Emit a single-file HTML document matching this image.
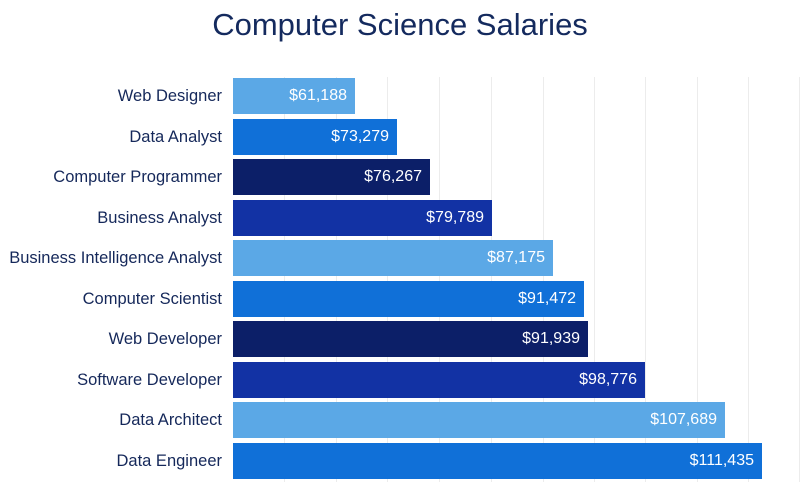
<!DOCTYPE html>
<html><head><style>
body{margin:0;width:800px;height:491px;background:#fff;font-family:"Liberation Sans",sans-serif;overflow:hidden;position:relative}
.t{position:absolute;top:7px;left:0;width:800px;text-align:center;font-size:31px;color:#142a5e}
.g{position:absolute;top:77px;height:405px;width:1px;background:#ececec}
.b{position:absolute;left:233px;height:36px;color:#fff;font-size:16px;line-height:36px;text-align:right;box-sizing:border-box;padding-right:8px}
.l{position:absolute;right:578px;height:36px;line-height:36px;font-size:16.5px;color:#15285a;white-space:nowrap}
</style></head><body>
<div class="t">Computer Science Salaries</div>
<div class="g" style="left:284px"></div><div class="g" style="left:336px"></div><div class="g" style="left:387px"></div><div class="g" style="left:439px"></div><div class="g" style="left:491px"></div><div class="g" style="left:543px"></div><div class="g" style="left:594px"></div><div class="g" style="left:645px"></div><div class="g" style="left:697px"></div><div class="g" style="left:748px"></div><div class="g" style="left:799px"></div>
<div class="l" style="top:78px">Web Designer</div><div class="b" style="top:78px;width:122px;background:#5ba8e6">$61,188</div>
<div class="l" style="top:119px">Data Analyst</div><div class="b" style="top:119px;width:164px;background:#1070d8">$73,279</div>
<div class="l" style="top:159px">Computer Programmer</div><div class="b" style="top:159px;width:197px;background:#0c1f68">$76,267</div>
<div class="l" style="top:200px">Business Analyst</div><div class="b" style="top:200px;width:259px;background:#1232a4">$79,789</div>
<div class="l" style="top:240px">Business Intelligence Analyst</div><div class="b" style="top:240px;width:320px;background:#5ba8e6">$87,175</div>
<div class="l" style="top:281px">Computer Scientist</div><div class="b" style="top:281px;width:351px;background:#1070d8">$91,472</div>
<div class="l" style="top:321px">Web Developer</div><div class="b" style="top:321px;width:355px;background:#0c1f68">$91,939</div>
<div class="l" style="top:362px">Software Developer</div><div class="b" style="top:362px;width:412px;background:#1232a4">$98,776</div>
<div class="l" style="top:402px">Data Architect</div><div class="b" style="top:402px;width:492px;background:#5ba8e6">$107,689</div>
<div class="l" style="top:443px">Data Engineer</div><div class="b" style="top:443px;width:529px;background:#1070d8">$111,435</div>
</body></html>
